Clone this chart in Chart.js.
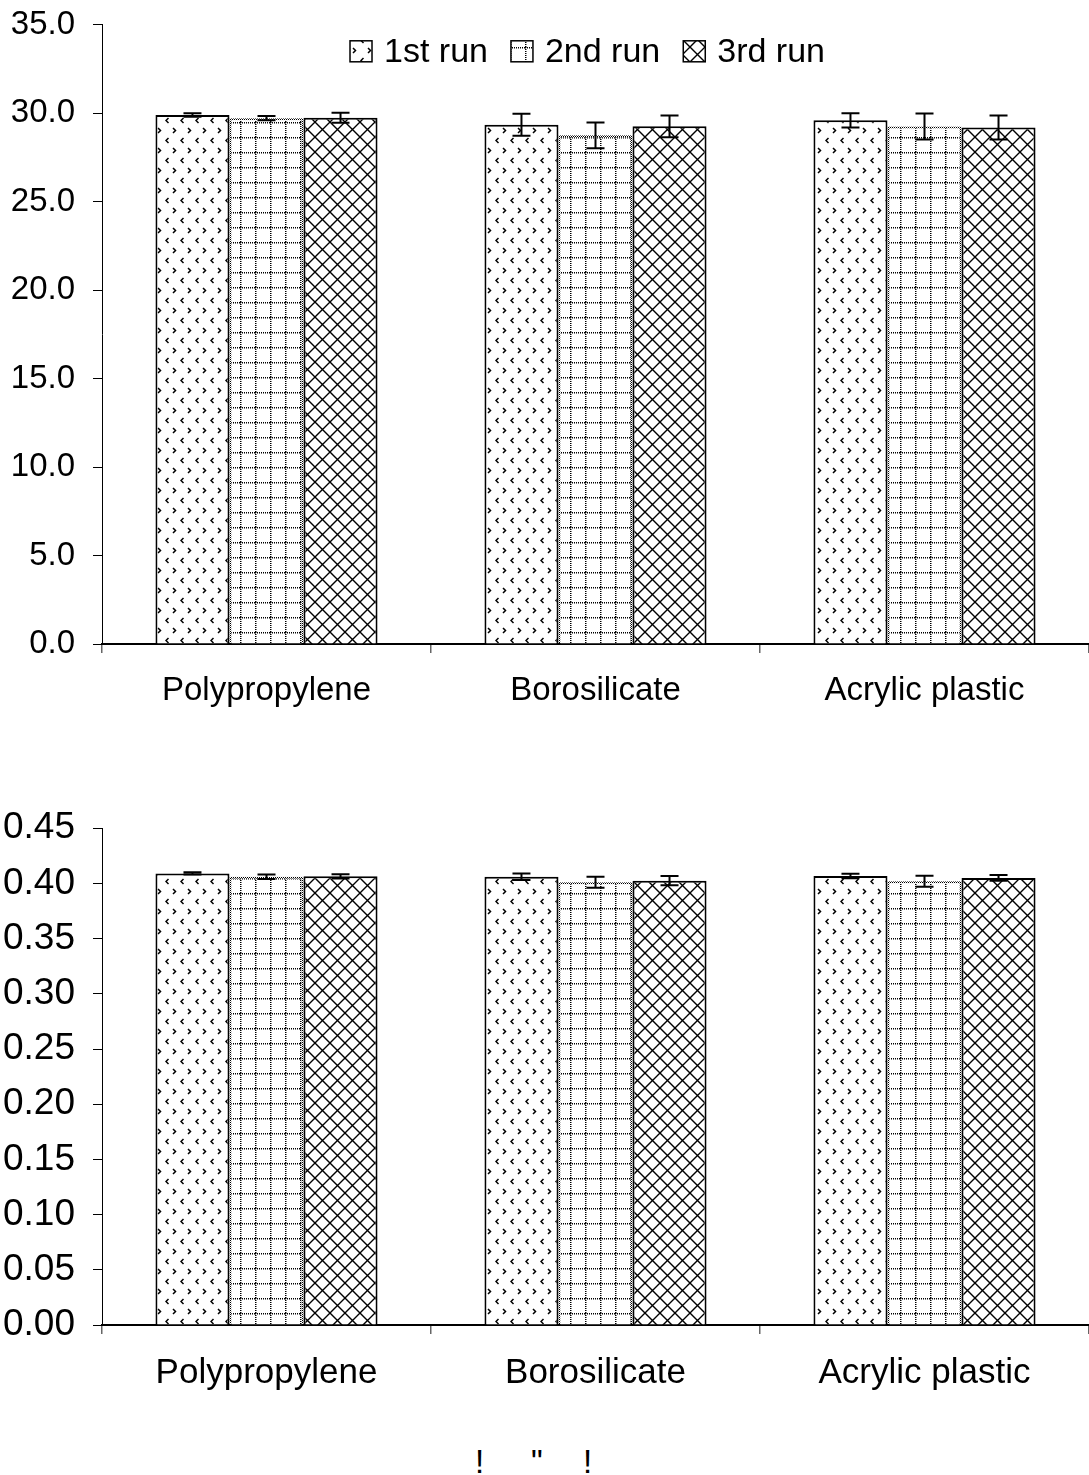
<!DOCTYPE html>
<html>
<head>
<meta charset="utf-8">
<script src="https://cdn.jsdelivr.net/npm/chart.js@4.4.0/dist/chart.umd.min.js"></script>
<style>
  body { margin: 0; background: #fff; width: 1089px; height: 1475px; overflow: hidden; position: relative;
         font-family: "Liberation Sans", Arial, sans-serif; }
  .box { position: absolute; left: 0; width: 1089px; }
  #topBox { top: -13px; height: 733px; }
  #bottomBox { top: 788px; height: 613px; }
  .mark { position: absolute; top: 1445px; font-size: 33px; line-height: 33px; color: #000; }
</style>
</head>
<body>
<div class="box" id="topBox"><canvas id="topChart"></canvas></div>
<div class="box" id="bottomBox"><canvas id="bottomChart"></canvas></div>
<div class="mark" style="left:475px">!</div>
<div class="mark" style="left:531px">"</div>
<div class="mark" style="left:583px">!</div>
<script>
const categories = ['Polypropylene', 'Borosilicate', 'Acrylic plastic'];
const runNames = ['1st run', '2nd run', '3rd run'];

// upper panel
const topRun1 = [29.9, 29.35, 29.6];
const topRun2 = [29.72, 28.75, 29.25];
const topRun3 = [29.75, 29.26, 29.2];
const topErr1 = [0.1, 0.62, 0.4];
const topErr2 = [0.12, 0.73, 0.73];
const topErr3 = [0.28, 0.62, 0.68];
const topTicks = [0, 35, 5];

// lower panel
const botRun1 = [0.409, 0.406, 0.4067];
const botRun2 = [0.406, 0.401, 0.402];
const botRun3 = [0.4064, 0.4025, 0.405];
const botErr1 = [0.001, 0.003, 0.002];
const botErr2 = [0.002, 0.005, 0.005];
const botErr3 = [0.002, 0.0042, 0.0026];
const botTicks = [0, 0.45, 0.05];

Chart.defaults.font.family = '"Liberation Sans", Arial, sans-serif';
Chart.defaults.color = '#000';

function tile(w, h, draw) {
  const c = document.createElement('canvas');
  c.width = w; c.height = h;
  const g = c.getContext('2d');
  g.fillStyle = '#fff';
  g.fillRect(0, 0, w, h);
  g.fillStyle = '#000';
  g.strokeStyle = '#000';
  draw(g);
  return g.createPattern(c, 'repeat');
}

const chevrons = tile(15, 20, g => {
  g.lineWidth = 1.5;
  g.beginPath(); g.moveTo(8, 1); g.lineTo(10.5, 3.5); g.lineTo(8, 6); g.stroke();
  g.beginPath(); g.moveTo(3.5, 11); g.lineTo(1, 13.5); g.lineTo(3.5, 16); g.stroke();
});

const dottedGrid = tile(15, 15, g => {
  for (let i = 0; i < 15; i += 2) {
    g.fillRect(i, 0, 1, 1.5);
    g.fillRect(0, i, 1.5, 1);
  }
});

const crossHatch = tile(15, 15, g => {
  g.lineWidth = 1.4;
  g.beginPath();
  g.moveTo(-1, -1); g.lineTo(16, 16);
  g.moveTo(16, -1); g.lineTo(-1, 16);
  g.stroke();
});

const dotBorder = tile(2, 2, g => {
  g.clearRect(0, 0, 2, 2);
  g.fillRect(0, 0, 1, 1);
  g.fillRect(1, 1, 1, 1);
});

const errorBars = {
  id: 'errorBars',
  afterDatasetsDraw(chart) {
    const ctx = chart.ctx;
    const y = chart.scales.y;
    chart.data.datasets.forEach((ds, di) => {
      chart.getDatasetMeta(di).data.forEach((bar, i) => {
        const v = ds.data[i], e = ds.errors[i];
        const hi = y.getPixelForValue(v + e), lo = y.getPixelForValue(v - e);
        ctx.save();
        ctx.strokeStyle = '#000';
        ctx.lineWidth = 2;
        ctx.beginPath();
        ctx.moveTo(bar.x, hi); ctx.lineTo(bar.x, lo);
        ctx.moveTo(bar.x - 9, hi); ctx.lineTo(bar.x + 9, hi);
        ctx.moveTo(bar.x - 9, lo); ctx.lineTo(bar.x + 9, lo);
        ctx.stroke();
        ctx.restore();
      });
    });
  }
};

// legend sits inside the plot, one row across the top
const runLegend = {
  id: 'runLegend',
  afterDraw(chart, args, opts) {
    if (!opts.show) return;
    const ctx = chart.ctx;
    const a = chart.chartArea;
    const bw = 22, bh = 21, gapIn = 12, gapOut = 23;
    ctx.save();
    ctx.font = '34px "Liberation Sans", Arial, sans-serif';
    const items = chart.data.datasets.map(ds => ({ ds: ds, w: ctx.measureText(ds.label).width }));
    const total = items.reduce((s, it) => s + bw + gapIn + it.w, 0) + gapOut * (items.length - 1);
    let x = (a.left + a.right) / 2 - 8 - total / 2;
    const cy = a.top + 26.5;
    items.forEach(it => {
      ctx.fillStyle = it.ds.backgroundColor;
      ctx.fillRect(x, cy - bh / 2, bw, bh);
      ctx.strokeStyle = '#000';
      ctx.lineWidth = 1.5;
      ctx.strokeRect(x, cy - bh / 2, bw, bh);
      ctx.fillStyle = '#000';
      ctx.textBaseline = 'middle';
      ctx.fillText(it.ds.label, x + bw + gapIn, cy + 1);
      x += bw + gapIn + it.w + gapOut;
    });
    ctx.restore();
  }
};

function makeChart(id, runs, errs, ticks, digits, opt) {
  const fills = [chevrons, dottedGrid, crossHatch];
  const borders = ['#000', dotBorder, '#000'];
  const datasets = runs.map((r, i) => ({
    label: runNames[i],
    data: r,
    errors: errs[i],
    backgroundColor: fills[i],
    borderColor: borders[i],
    borderWidth: 2,
    categoryPercentage: 0.675,
    barPercentage: 1.0
  }));
  return new Chart(document.getElementById(id), {
    type: 'bar',
    data: { labels: categories, datasets: datasets },
    plugins: [errorBars, runLegend],
    options: {
      responsive: true,
      maintainAspectRatio: false,
      animation: false,
      layout: { padding: { top: opt.padTop, left: 0, right: 0, bottom: 0 } },
      plugins: {
        tooltip: { enabled: false },
        legend: { display: false },
        runLegend: { show: opt.legend }
      },
      scales: {
        x: {
          ticks: { font: { size: opt.catSize }, padding: 18 },
          grid: { drawOnChartArea: false, offset: true, tickLength: 9, color: '#666', lineWidth: 1.5 },
          border: { color: '#000', width: 2 },
          afterFit(s) { s.height = 76; }
        },
        y: {
          min: ticks[0],
          max: ticks[1],
          ticks: { stepSize: ticks[2], font: { size: opt.tickSize }, padding: opt.tickPad,
                   callback: v => Number(v).toFixed(digits) },
          grid: { drawOnChartArea: false, tickLength: 9, color: '#000', lineWidth: 1 },
          border: { color: '#000', width: 1 },
          afterFit(s) { s.width = 102; }
        }
      }
    }
  });
}

makeChart('topChart', [topRun1, topRun2, topRun3], [topErr1, topErr2, topErr3], topTicks, 1,
  { padTop: 22, legend: true, catSize: 33, tickSize: 33, tickPad: 18 });
makeChart('bottomChart', [botRun1, botRun2, botRun3], [botErr1, botErr2, botErr3], botTicks, 2,
  { padTop: 26, legend: false, catSize: 35, tickSize: 37, tickPad: 18 });
</script>
</body>
</html>
